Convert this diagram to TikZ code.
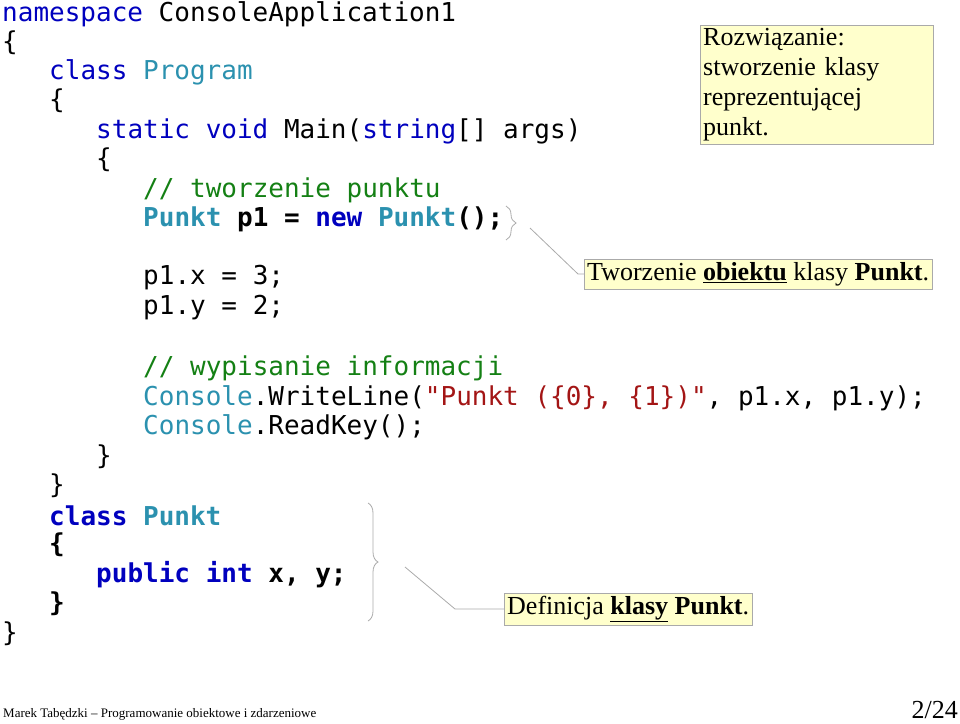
\documentclass[tikz,border=0pt]{standalone}
\usepackage{fontspec}
\setmainfont{Liberation Serif}
\newfontfamily\codefont{DejaVu Sans Mono}
\usetikzlibrary{positioning,decorations.pathreplacing}
\definecolor{kwblue}{RGB}{0,0,190}
\definecolor{typeteal}{RGB}{43,145,175}
\definecolor{cmtgreen}{RGB}{20,128,20}
\definecolor{strred}{RGB}{163,21,21}
\definecolor{noteyellow}{RGB}{255,255,204}
\definecolor{notegray}{RGB}{170,170,170}
\newcommand{\kw}[1]{\textcolor{kwblue}{#1}}
\newcommand{\ty}[1]{\textcolor{typeteal}{#1}}
\newcommand{\cm}[1]{\textcolor{cmtgreen}{#1}}
\newcommand{\st}[1]{\textcolor{strred}{#1}}
\tikzset{
  codeline/.style={anchor=west,inner sep=0pt,font=\codefont\fontsize{26}{30}\selectfont},
  notebox/.style={draw=notegray,fill=noteyellow,inner sep=3pt,font=\fontsize{26}{30}\selectfont},
  callout/.style={draw=notegray,line width=0.8pt},
  bracket/.style={draw=notegray,line width=0.8pt,decorate,decoration={brace,amplitude=10pt}}
}
\begin{document}
\begin{tikzpicture}[x=1pt,y=-1pt]
    \useasboundingbox (0,0) rectangle (960,723);
    % code lines
    \node [codeline] (l1) at (2,14) {\kw{namespace} ConsoleApplication1};
    \node [codeline] (l2) at (2,43) {\{};
    \node [codeline] (l3) at (49,72) {\kw{class} \ty{Program}};
    \node [codeline] (l4) at (49,101) {\{};
    \node [codeline] (l5) at (96,131) {\kw{static} \kw{void} Main(\kw{string}[] args)};
    \node [codeline] (l6) at (96,160) {\{};
    \node [codeline] (l7) at (143,190) {\cm{// tworzenie punktu}};
    \node [codeline] (l8) at (143,219) {\bfseries\ty{Punkt} p1 = \kw{new} \ty{Punkt}();};
    \node [codeline] (l9) at (143,278) {p1.x = 3;};
    \node [codeline] (l10) at (143,308) {p1.y = 2;};
    \node [codeline] (l11) at (143,368) {\cm{// wypisanie informacji}};
    \node [codeline] (l12) at (143,398) {\ty{Console}.WriteLine(\st{"Punkt (\{0\}, \{1\})"}, p1.x, p1.y);};
    \node [codeline] (l13) at (143,427) {\ty{Console}.ReadKey();};
    \node [codeline] (l14) at (96,457) {\}};
    \node [codeline] (l15) at (49,486) {\}};
    \node [codeline] (l16) at (49,516) {\bfseries\kw{class} \ty{Punkt}};
    \node [codeline] (l17) at (49,545) {\bfseries\{};
    \node [codeline] (l18) at (96,575) {\bfseries\kw{public} \kw{int} x, y;};
    \node [codeline] (l19) at (49,604) {\bfseries\}};
    \node [codeline] (l20) at (2,634) {\}};
    % notes
    \node [notebox,anchor=north west,text width=227pt,align=left,inner sep=3pt] (solution) at (700,25)
      {Rozwiązanie:\\stworzenie klasy\\reprezentującej\\punkt.};
    \node [notebox,anchor=west] (objnote) at (584,274) {Tworzenie \textbf{\underline{obiektu}} klasy \textbf{Punkt}.};
    \node [notebox,anchor=west] (classnote) at (504,609) {Definicja \textbf{\underline{klasy}} \textbf{Punkt}.};
    % braces and callouts
    \draw [bracket] (506,206) -- (506,240);
    \draw [bracket] (368,503) -- (368,621);
    \coordinate (objbend) at (578,274);
    \coordinate (objstart) at (530,228);
    \coordinate (classbend) at (455,609);
    \coordinate (classstart) at (405,567);
    \draw [callout] (objstart) -- (objbend) -- (objnote.west);
    \draw [callout] (classstart) -- (classbend) -- (classnote.west);
    % footer
    \node [anchor=west,inner sep=0pt,font=\fontsize{13}{15}\selectfont] (author) at (3,714)
      {Marek Tabędzki – Programowanie obiektowe i zdarzeniowe};
    \node [anchor=east,inner sep=0pt,font=\fontsize{26}{28}\selectfont] (page) at (958,710) {2/24};
\end{tikzpicture}
\end{document}
